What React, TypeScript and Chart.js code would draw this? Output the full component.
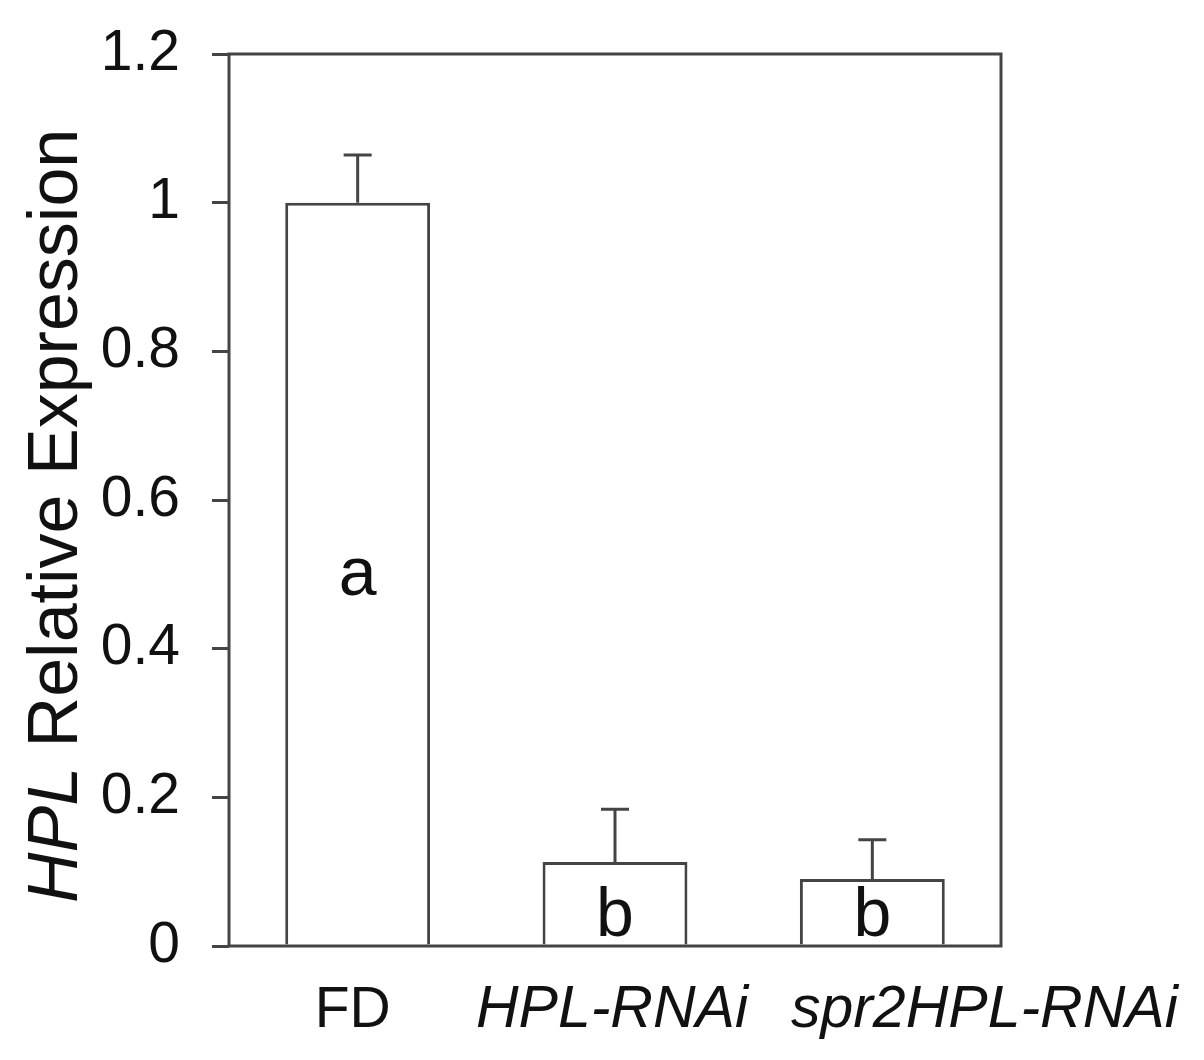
import React, { useEffect, useRef } from "react";
import { Chart, registerables } from "chart.js";

Chart.register(...registerables);

const categories = ["FD", "HPL-RNAi", "spr2HPL-RNAi"];
const italicCategory = [false, true, true];
const values = [1.0, 0.113, 0.09];
const errors = [0.064, 0.071, 0.053];
const letters = ["a", "b", "b"];
const yTickValues = [0, 0.2, 0.4, 0.6, 0.8, 1.0, 1.2];
const yTickLabels = ["0", "0.2", "0.4", "0.6", "0.8", "1", "1.2"];
const yTitleItalic = "HPL";
const yTitleRest = " Relative Expression";

const FONT = "'Liberation Sans', Arial, Helvetica, sans-serif";
const LINE = "#444444";
const LABEL_SHIFT = [-5, -3, 112];

const W = 1204;
const H = 1060;

const annotationsPlugin = {
  id: "annotations",
  afterDatasetsDraw(chart: any) {
    const { ctx, chartArea, scales } = chart;
    const ys = scales.y;
    const meta = chart.getDatasetMeta(0);
    ctx.save();
    // error bars (upper only)
    ctx.strokeStyle = LINE;
    ctx.lineWidth = 3;
    values.forEach((v, i) => {
      const el = meta.data[i];
      const x = el.x;
      const yTop = ys.getPixelForValue(v);
      const yErr = ys.getPixelForValue(v + errors[i]);
      ctx.beginPath();
      ctx.moveTo(x, yTop);
      ctx.lineTo(x, yErr);
      ctx.moveTo(x - 14, yErr);
      ctx.lineTo(x + 14, yErr);
      ctx.stroke();
    });
    // letters
    ctx.fillStyle = "#111";
    ctx.font = `68px ${FONT}`;
    ctx.textAlign = "center";
    values.forEach((v, i) => {
      const el = meta.data[i];
      const yTop = ys.getPixelForValue(v);
      const yBase = ys.getPixelForValue(0);
      if (yBase - yTop > 200) {
        ctx.textBaseline = "middle";
        ctx.fillText(letters[i], el.x, (yTop + yBase) / 2 + 2);
      } else {
        ctx.textBaseline = "alphabetic";
        ctx.fillText(letters[i], el.x, yBase - 10);
      }
    });
    // x category labels
    ctx.textBaseline = "alphabetic";
    ctx.textAlign = "center";
    categories.forEach((c, i) => {
      const el = meta.data[i];
      ctx.font = italicCategory[i] ? `italic 59px ${FONT}` : `57px ${FONT}`;
      ctx.fillText(c, el.x + LABEL_SHIFT[i], chartArea.bottom + 81);
    });
    // frame
    ctx.strokeStyle = LINE;
    ctx.lineWidth = 3;
    ctx.strokeRect(
      chartArea.left,
      chartArea.top,
      chartArea.right - chartArea.left,
      chartArea.bottom - chartArea.top
    );
    // y title with mixed styles
    ctx.translate(77, 903);
    ctx.rotate(-Math.PI / 2);
    ctx.textAlign = "left";
    ctx.textBaseline = "alphabetic";
    ctx.fillStyle = "#111";
    ctx.font = `italic 70px ${FONT}`;
    ctx.fillText(yTitleItalic, 0, 0);
    const w1 = ctx.measureText(yTitleItalic).width;
    ctx.font = `70px ${FONT}`;
    ctx.fillText(yTitleRest, w1, 0);
    ctx.restore();
  },
};

export default function App() {
  const ref = useRef<HTMLCanvasElement | null>(null);
  useEffect(() => {
    document.body.style.margin = "0";
    const canvas = ref.current;
    if (!canvas) return;
    const chart = new Chart(canvas, {
      type: "bar",
      data: {
        labels: categories,
        datasets: [
          {
            data: values,
            backgroundColor: "#ffffff",
            borderColor: LINE,
            borderWidth: 3,
            barPercentage: 0.563,
            categoryPercentage: 1,
          },
        ],
      },
      options: {
        animation: false,
        responsive: false,
        devicePixelRatio: 1,
        layout: { padding: { top: 54, right: 203, left: 0, bottom: 0 } },
        plugins: {
          legend: { display: false },
          tooltip: { enabled: false },
        },
        scales: {
          x: {
            grid: { display: false },
            border: { display: false },
            ticks: { display: false },
            afterFit: (s: any) => {
              s.height = 114;
              s.paddingLeft = 0;
              s.paddingRight = 0;
            },
          },
          y: {
            min: 0,
            max: 1.2,
            afterBuildTicks: (s: any) => {
              s.ticks = yTickValues.map((v) => ({ value: v }));
            },
            grid: {
              display: true,
              drawOnChartArea: false,
              drawTicks: true,
              tickLength: 17,
              color: LINE,
              lineWidth: 3,
            },
            border: { display: false },
            ticks: {
              color: "#111",
              padding: 32,
              font: { family: FONT, size: 57 },
              callback: (v: any) => {
                const idx = yTickValues.findIndex((t) => Math.abs(t - Number(v)) < 1e-9);
                return idx >= 0 ? yTickLabels[idx] : "";
              },
            },
            afterFit: (s: any) => {
              s.width = 229;
              s.paddingTop = 0;
              s.paddingBottom = 0;
            },
          },
        },
      },
      plugins: [annotationsPlugin],
    });
    return () => chart.destroy();
  }, []);
  return (
    <div style={{ position: "absolute", left: 0, top: 0, width: W, height: H, background: "#fff" }}>
      <canvas ref={ref} width={W} height={H} style={{ width: W, height: H, display: "block" }} />
    </div>
  );
}
